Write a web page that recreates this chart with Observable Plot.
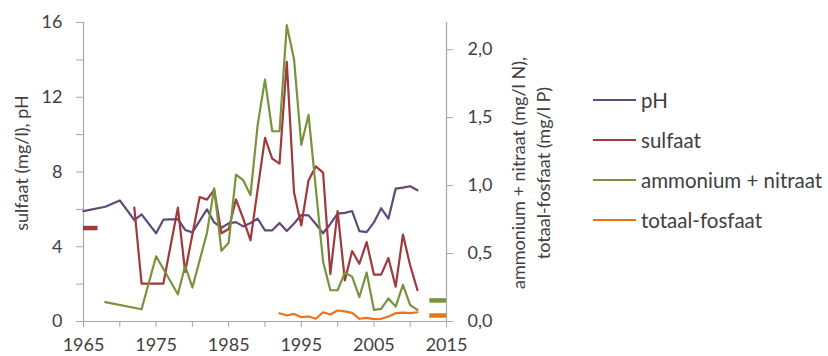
<!DOCTYPE html>
<html>
<head>
<meta charset="utf-8">
<script src="https://cdn.jsdelivr.net/npm/d3@7"></script>
<script src="https://cdn.jsdelivr.net/npm/@observablehq/plot@0.6"></script>
<style>
  body { margin: 0; background: #fff; font-family: Lato, "Open Sans", sans-serif; color: #404040; }
  #wrap { position: relative; width: 828px; height: 356px; overflow: hidden; }
  .ttl { position: absolute; white-space: nowrap; transform: translate(-50%, -50%) rotate(-90deg); font-size: 18px; text-align: center; line-height: 25px; }
  .leg { position: absolute; left: 593px; display: flex; align-items: center; font-size: 20.5px; transform: translateY(-50%); white-space: nowrap; }
  .leg span.sw { display: inline-block; width: 43px; height: 0; border-top: 2px solid; margin-right: 5px; }
</style>
</head>
<body>
<div id="wrap"></div>
<script>
// ---- data ----
const phYears = [1965,1968,1970,1972,1973,1975,1976,1978,1979,1980,1982,1983,1984,1985,1986,1987,1988,1989,1990,1991,1992,1993,1994,1995,1996,1997,1998,1999,2000,2001,2002,2003,2004,2005,2006,2007,2008,2009,2010,2011];
const phValues = [5.91,6.14,6.48,5.43,5.73,4.72,5.45,5.48,4.9,4.77,6.0,5.3,5.02,5.25,5.32,5.09,5.27,5.5,4.88,4.88,5.27,4.84,5.24,5.7,5.68,5.22,4.72,5.22,5.77,5.81,5.91,4.84,4.78,5.3,6.06,5.5,7.11,7.16,7.24,7.02];

const sulfaatYears = [1972,1973,1976,1978,1979,1981,1982,1983,1984,1985,1986,1987,1988,1989,1990,1991,1992,1993,1994,1995,1996,1997,1998,1999,2000,2001,2002,2003,2004,2005,2006,2007,2008,2009,2010,2011];
const sulfaatValues = [6.09,2.03,2.03,6.09,2.65,6.66,6.52,7.04,4.72,4.95,6.53,5.5,4.34,7.1,9.83,8.72,8.45,13.9,6.9,5.14,7.56,8.3,7.97,2.54,5.91,2.2,3.77,3.09,4.25,2.51,2.51,3.4,1.86,4.65,3.0,1.68];

const nYears = [1968,1973,1975,1978,1979,1980,1982,1983,1984,1985,1986,1987,1988,1989,1990,1991,1992,1993,1994,1995,1996,1997,1998,1999,2000,2001,2002,2003,2004,2005,2006,2007,2008,2009,2010,2011];
const nValues = [0.142,0.09,0.48,0.2,0.41,0.25,0.65,0.98,0.52,0.58,1.08,1.04,0.93,1.45,1.78,1.40,1.40,2.18,1.93,1.30,1.52,0.98,0.44,0.23,0.23,0.36,0.33,0.18,0.36,0.086,0.093,0.17,0.11,0.27,0.12,0.086];

const pYears = [1992,1993,1994,1995,1996,1997,1998,1999,2000,2001,2002,2003,2004,2005,2006,2007,2008,2009,2010,2011];
const pValues = [0.061,0.044,0.056,0.032,0.037,0.02,0.068,0.051,0.081,0.074,0.064,0.02,0.027,0.017,0.02,0.037,0.061,0.066,0.061,0.068];

// reference levels (short thick bars)
const sulfaatRef = [{from: 1965, to: 1967, v: 5.0}];
const nRef = [{from: 2012.7, to: 2015, v: 0.155}];
const pRef = [{from: 2012.7, to: 2015, v: 0.044}];

const leftTicks = [0,2,4,6,8,10,12,14,16];
const rightTicks = [0,0.5,1.0,1.5,2.0];
const xTicks = [1965,1970,1975,1980,1985,1990,1995,2000,2005,2010,2015];

const seriesNames = ["pH","sulfaat","ammonium + nitraat","totaal-fosfaat"];
const seriesColors = ["#604A7B","#A0393A","#77933C","#EE7219"];

// ---- build ----
const leftMax = 16, rightMax = 2.2;
const k = leftMax / rightMax; // right-axis value -> left-axis units
const zip = (xs, ys, f = 1) => xs.map((x, i) => ({year: x, v: ys[i] * f}));
const gray = "#a6a6a6";

const chart = Plot.plot({
  width: 828,
  height: 356,
  marginLeft: 83,
  marginRight: 382,
  marginTop: 22,
  marginBottom: 35,
  x: {domain: [1965, 2015]},
  y: {domain: [0, leftMax]},
  style: {fontFamily: "Lato, 'Open Sans', sans-serif", color: "#404040", background: "transparent", overflow: "visible"},
  marks: [
    Plot.ruleX([1965, 2015], {stroke: gray, strokeWidth: 1.2}),
    Plot.ruleY([0], {stroke: gray, strokeWidth: 1.2}),
    Plot.axisX({ticks: xTicks, tickFormat: d => ((d - 1965) % 10 === 0 ? String(d) : ""), tickSize: 6, tickPadding: 11, fontSize: 18, stroke: gray, fill: "#404040", label: null}),
    Plot.axisY({ticks: leftTicks, tickFormat: d => (d % 4 === 0 ? String(d) : ""), tickSize: 7, tickPadding: 14, fontSize: 18, stroke: gray, fill: "#404040", label: null}),
    Plot.axisY({anchor: "right", ticks: rightTicks.map(v => v * k), tickFormat: d => (d / k).toFixed(1).replace(".", ","), tickSize: 6, tickPadding: 15, fontSize: 18, stroke: gray, fill: "#404040", label: null}),
    Plot.line(zip(phYears, phValues), {x: "year", y: "v", stroke: seriesColors[0], strokeWidth: 2.2}),
    Plot.line(zip(sulfaatYears, sulfaatValues), {x: "year", y: "v", stroke: seriesColors[1], strokeWidth: 2.2}),
    Plot.line(zip(nYears, nValues, k), {x: "year", y: "v", stroke: seriesColors[2], strokeWidth: 2.2}),
    Plot.line(zip(pYears, pValues, k), {x: "year", y: "v", stroke: seriesColors[3], strokeWidth: 2.2}),
    Plot.ruleY(sulfaatRef, {x1: "from", x2: "to", y: "v", stroke: seriesColors[1], strokeWidth: 4.5}),
    Plot.ruleY(nRef, {x1: "from", x2: "to", y: d => d.v * k, stroke: seriesColors[2], strokeWidth: 4.5}),
    Plot.ruleY(pRef, {x1: "from", x2: "to", y: d => d.v * k, stroke: seriesColors[3], strokeWidth: 4.5})
  ]
});

const wrap = document.getElementById("wrap");
wrap.appendChild(chart);

// axis titles
const lt = document.createElement("div");
lt.className = "ttl";
lt.style.left = "21px"; lt.style.top = "163px";
lt.textContent = "sulfaat (mg/l), pH";
wrap.appendChild(lt);

const rt = document.createElement("div");
rt.className = "ttl";
rt.style.left = "531px"; rt.style.top = "173px";
rt.innerHTML = "ammonium + nitraat (mg/l N),<br>totaal-fosfaat (mg/l P)";
wrap.appendChild(rt);

// legend
seriesNames.forEach((name, i) => {
  const row = document.createElement("div");
  row.className = "leg";
  row.style.top = (100 + 40 * i) + "px";
  const sw = document.createElement("span");
  sw.className = "sw";
  sw.style.borderTopColor = seriesColors[i];
  const tx = document.createElement("span");
  tx.textContent = name;
  row.appendChild(sw); row.appendChild(tx);
  wrap.appendChild(row);
});
</script>
</body>
</html>
